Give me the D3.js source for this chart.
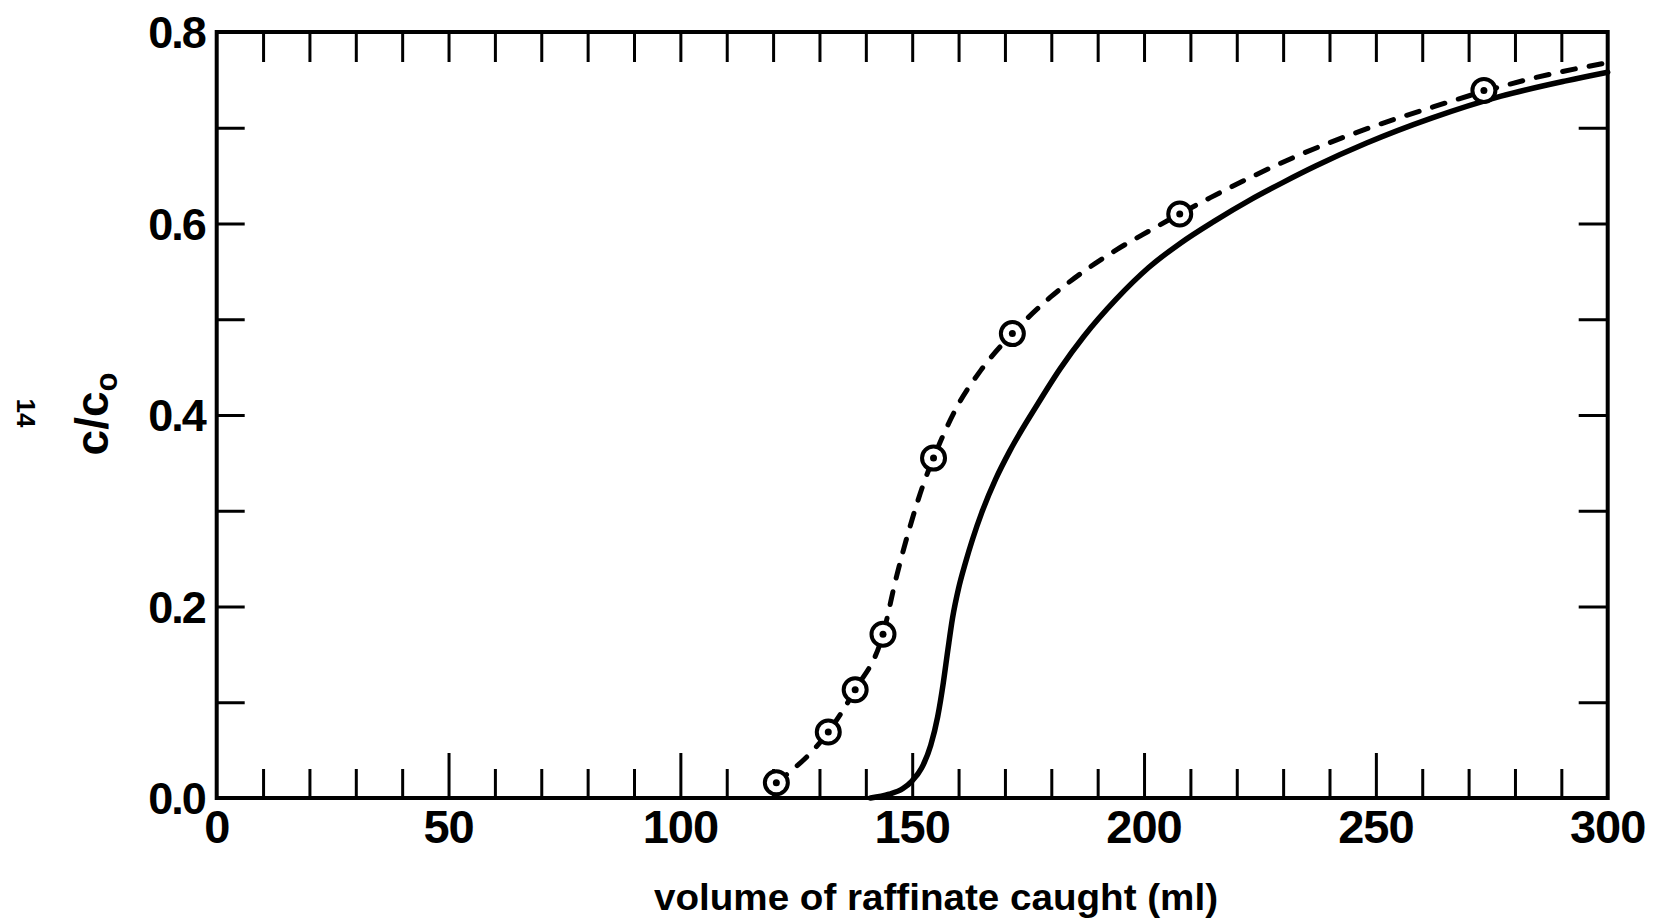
<!DOCTYPE html>
<html>
<head>
<meta charset="utf-8">
<script src="https://cdn.jsdelivr.net/npm/d3@7"></script>
<style>
  html, body { margin: 0; padding: 0; background: #fff; }
  svg { display: block; }
  text { font-family: "Liberation Sans", Arial, sans-serif; font-weight: bold; fill: #000; }
</style>
</head>
<body>
<svg id="chart" width="1653" height="922"></svg>
<script>
// ---- Data ----
const xTickValues = [0, 50, 100, 150, 200, 250, 300];
const yTickValues = [0.0, 0.2, 0.4, 0.6, 0.8];

// Measured points (open circles with centre dot), volume (ml) vs c/c0
const measuredX = [120.7, 131.9, 137.7, 143.7, 154.6, 171.6, 207.7, 273.3];
const measuredY = [0.016, 0.069, 0.113, 0.171, 0.355, 0.485, 0.610, 0.739];

// Dashed curve drawn through the measured points
const dashedX = [120.7, 131.9, 137.7, 143.7, 146.6, 149.5, 152.8, 154.6, 156.7, 159.6, 165.0, 171.6, 179.8, 187.0, 194.2, 201.4, 207.7, 214.3, 222.9, 233.7, 248.1, 262.5, 273.3, 284.1, 300];
const dashedY = [0.016, 0.069, 0.113, 0.171, 0.231, 0.283, 0.333, 0.355, 0.379, 0.408, 0.448, 0.485, 0.523, 0.550, 0.573, 0.593, 0.610, 0.627, 0.648, 0.672, 0.699, 0.722, 0.738, 0.752, 0.768];

// Solid (calculated) curve
const solidX = [141, 145, 148, 150, 152, 154, 155.5, 156.7, 157.7, 158.7, 160, 161.5, 163, 165, 168, 171, 177, 182, 187, 194, 201, 208, 215, 223, 230, 237, 248, 262, 277, 291, 300];
const solidY = [0.000, 0.004, 0.010, 0.018, 0.031, 0.055, 0.085, 0.120, 0.155, 0.188, 0.219, 0.246, 0.270, 0.298, 0.333, 0.362, 0.411, 0.449, 0.482, 0.521, 0.554, 0.580, 0.602, 0.625, 0.643, 0.660, 0.684, 0.710, 0.733, 0.749, 0.758];

const xLabel = "volume of raffinate caught (ml)";
const yLabelMain = "c/c";
const yLabelSub = "o";
const pageNumber = "14";

// ---- Layout ----
const svg = d3.select("#chart");
const mLeft = 216.7, mRight = 1607.7, mTop = 32, mBottom = 798;

const x = d3.scaleLinear().domain([0, 300]).range([mLeft, mRight]);
const y = d3.scaleLinear().domain([0, 0.8]).range([mBottom, mTop]);

// Frame
svg.append("rect")
  .attr("x", mLeft).attr("y", mTop)
  .attr("width", mRight - mLeft).attr("height", mBottom - mTop)
  .attr("fill", "none").attr("stroke", "#000").attr("stroke-width", 4);

// Bottom ticks (inward), every 10 ml, longer at multiples of 50
const bottomAxis = d3.axisBottom(x).tickValues(d3.range(10, 300, 10)).tickSize(0).tickFormat("");
const gb = svg.append("g").attr("transform", `translate(0,${mBottom})`).call(bottomAxis);
gb.select(".domain").remove();
gb.selectAll(".tick line")
  .attr("y2", d => (d % 50 === 0 ? -45 : -29))
  .attr("stroke", "#000").attr("stroke-width", 3);

// Top ticks (inward), every 10 ml
const topAxis = d3.axisTop(x).tickValues(d3.range(10, 300, 10)).tickSize(0).tickFormat("");
const gt = svg.append("g").attr("transform", `translate(0,${mTop})`).call(topAxis);
gt.select(".domain").remove();
gt.selectAll(".tick line").attr("y2", 30).attr("stroke", "#000").attr("stroke-width", 3);

// Left ticks (inward), every 0.1
const yMinor = d3.range(1, 8).map(d => d / 10);
const leftAxis = d3.axisLeft(y).tickValues(yMinor).tickSize(0).tickFormat("");
const gl = svg.append("g").attr("transform", `translate(${mLeft},0)`).call(leftAxis);
gl.select(".domain").remove();
gl.selectAll(".tick line").attr("x2", 28).attr("stroke", "#000").attr("stroke-width", 3);

// Right ticks (inward)
const rightAxis = d3.axisRight(y).tickValues(yMinor).tickSize(0).tickFormat("");
const gr = svg.append("g").attr("transform", `translate(${mRight},0)`).call(rightAxis);
gr.select(".domain").remove();
gr.selectAll(".tick line").attr("x2", -29).attr("stroke", "#000").attr("stroke-width", 3);

// X tick labels
svg.append("g").selectAll("text").data(xTickValues).join("text")
  .attr("x", d => x(d)).attr("y", mBottom + 45)
  .attr("text-anchor", "middle")
  .attr("font-size", 47).attr("letter-spacing", -1)
  .text(d => d);

// Y tick labels
svg.append("g").selectAll("text").data(yTickValues).join("text")
  .attr("x", mLeft - 12).attr("y", d => y(d))
  .attr("dy", "0.36em")
  .attr("text-anchor", "end")
  .attr("font-size", 45).attr("letter-spacing", -2)
  .text(d => d.toFixed(1));

// Axis titles
svg.append("text")
  .attr("x", 936).attr("y", 910)
  .attr("text-anchor", "middle")
  .attr("font-size", 36)
  .attr("textLength", 564).attr("lengthAdjust", "spacingAndGlyphs")
  .text(xLabel);

const yt = svg.append("text")
  .attr("transform", "translate(108,414) rotate(-90)")
  .attr("text-anchor", "middle")
  .attr("font-size", 46);
yt.append("tspan").text(yLabelMain);
yt.append("tspan").attr("font-size", 31).attr("dy", 9).text(yLabelSub);

// Page number (rotated, serif)
svg.append("text")
  .attr("transform", "translate(17,413) rotate(90)")
  .attr("text-anchor", "middle")
  .attr("font-family", "DejaVu Serif, serif")
  .attr("font-weight", "normal")
  .attr("font-size", 26)
  .text(pageNumber);

// Curves
const line = d3.line().x(d => x(d[0])).y(d => y(d[1])).curve(d3.curveMonotoneX);

svg.append("path")
  .datum(solidX.map((v, i) => [v, solidY[i]]))
  .attr("d", line)
  .attr("fill", "none").attr("stroke", "#000").attr("stroke-width", 5.5)
  .attr("stroke-linecap", "round");

svg.append("path")
  .datum(dashedX.map((v, i) => [v, dashedY[i]]))
  .attr("d", line)
  .attr("fill", "none").attr("stroke", "#000").attr("stroke-width", 5)
  .attr("stroke-linecap", "round")
  .attr("stroke-dasharray", "13,14");

// Markers
const pts = measuredX.map((v, i) => [v, measuredY[i]]);
const mg = svg.append("g").selectAll("g").data(pts).join("g")
  .attr("transform", d => `translate(${x(d[0])},${y(d[1])})`);
mg.append("circle").attr("r", 11.5).attr("fill", "#fff").attr("stroke", "#000").attr("stroke-width", 4);
mg.append("circle").attr("r", 3.5).attr("fill", "#000");
</script>
</body>
</html>
